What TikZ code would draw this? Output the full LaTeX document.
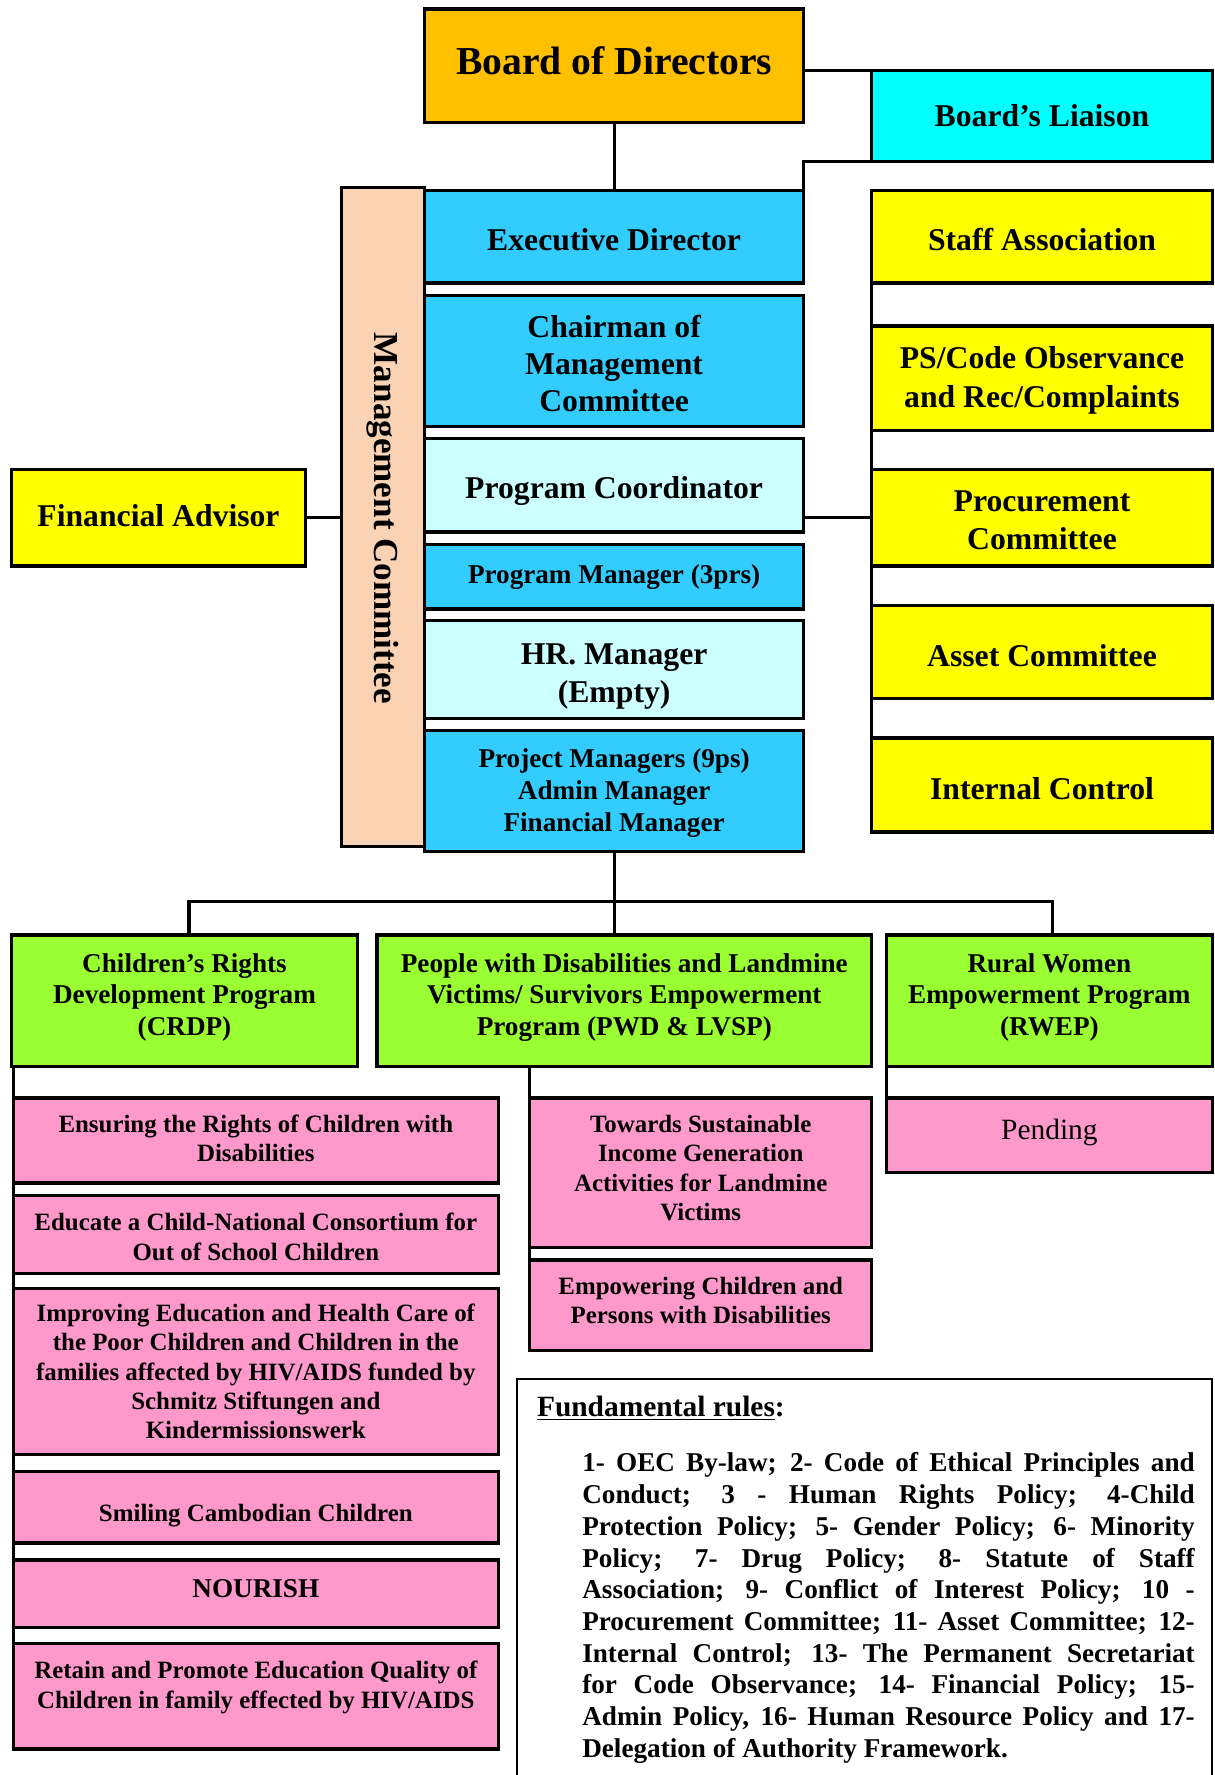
\documentclass[tikz,border=0pt]{standalone}
\usepackage{fontspec}
\setmainfont{Liberation Serif}
\definecolor{cOrange}{HTML}{FFC000}
\definecolor{cCyan}{HTML}{00FFFF}
\definecolor{cBlue}{HTML}{33CCFF}
\definecolor{cLight}{HTML}{CCFFFF}
\definecolor{cPeach}{HTML}{F9D3B4}
\definecolor{cYellow}{HTML}{FFFF00}
\definecolor{cGreen}{HTML}{99FF33}
\definecolor{cPink}{HTML}{FF99CC}
\tikzset{
 bx/.style={draw, line width=1.4pt, inner sep=1pt, outer sep=0pt},
 tx/.style={inner sep=0pt, align=center},
 fA/.style={font=\fontsize{17.5}{21}\selectfont\bfseries},
 fB/.style={font=\fontsize{14}{16.5}\selectfont\bfseries},
 fBB/.style={font=\fontsize{14}{17}\selectfont\bfseries},
 fC/.style={font=\fontsize{12}{14}\selectfont\bfseries},
 fD/.style={font=\fontsize{11}{13}\selectfont\bfseries},
 fR/.style={font=\fontsize{13}{15}\selectfont},
 conn/.style={line width=1.4pt},
}
% [text offset]{name}{x1}{y1}{x2}{y2}{fill}{font style}{text}
\newcommand{\bx}[9][0]{%
 \node[bx, fill=#7, minimum width={(#5-#3)*0.5pt}, minimum height={(#6-#4)*0.5pt}] (#2) at ({(#3+#5)/2},{(#4+#6)/2}) {};
 \node[tx, #8] (#2-t) at ([yshift={-(#1)*0.5pt}]#2.center) {#9};}
\begin{document}
\begin{tikzpicture}[x=0.5pt, y=-0.5pt]
\useasboundingbox (0,0) rectangle (1073,1568);
% top
\bx[-4]{board}{375}{8}{710}{108}{cOrange}{fA}{Board of Directors}
\bx{liaison}{770}{62}{1071}{143}{cCyan}{fB}{Board’s Liaison}
% central column
\bx{mc}{302}{166}{375}{748}{cPeach}{fB}{}
\node[rotate=-90, font=\fontsize{15.5}{18}\selectfont\bfseries] (mclabel) at ([yshift=-0.5pt]mc.center) {Management Committee};
\bx[3]{exec}{375}{168}{710}{250}{cBlue}{fB}{Executive Director}
\bx[2]{chair}{375}{261}{710}{377}{cBlue}{fB}{Chairman of\\Management\\Committee}
\bx[5]{pcoord}{375}{387}{710}{470}{cLight}{fB}{Program Coordinator}
\bx{pman}{375}{481}{710}{538}{cBlue}{fC}{Program Manager (3prs)}
\bx[6]{hr}{375}{548}{710}{635}{cLight}{fB}{HR. Manager\\(Empty)}
\bx[2]{proj}{375}{645}{710}{752}{cBlue}{fC}{Project Managers (9ps)\\Admin Manager\\Financial Manager}
\bx[-2]{fa}{10}{415}{270}{500}{cYellow}{fB}{Financial Advisor}
% right column
\bx[3]{staff}{770}{168}{1071}{250}{cYellow}{fB}{Staff Association}
\bx[2]{ps}{770}{288}{1071}{380}{cYellow}{fBB}{PS/Code Observance\\and Rec/Complaints}
\bx[2]{proc}{770}{415}{1071}{500}{cYellow}{fB}{Procurement\\Committee}
\bx[3]{asset}{770}{535}{1071}{617}{cYellow}{fB}{Asset Committee}
\bx[3]{ic}{770}{652}{1071}{735}{cYellow}{fB}{Internal Control}
% programs
\bx[-3]{crdp}{10}{826}{316}{942}{cGreen}{fC}{Children’s Rights\\Development Program\\(CRDP)}
\bx[-3]{pwd}{333}{826}{770}{942}{cGreen}{fC}{People with Disabilities and Landmine\\Victims/ Survivors Empowerment\\Program (PWD \& LVSP)}
\bx[-3]{rwep}{783}{826}{1071}{942}{cGreen}{fC}{Rural Women\\Empowerment Program\\(RWEP)}
% projects
\bx[-2]{ensure}{12}{970}{440}{1045}{cPink}{fD}{Ensuring the Rights of Children with\\Disabilities}
\bx[2]{educate}{12}{1056}{440}{1125}{cPink}{fD}{Educate a Child-National Consortium for\\Out of School Children}
\bx{improve}{12}{1138}{440}{1285}{cPink}{fD}{Improving Education and Health Care of\\the Poor Children and Children in the\\families affected by HIV/AIDS funded by\\Schmitz Stiftungen and\\Kindermissionswerk}
\bx[7]{smile}{12}{1300}{440}{1363}{cPink}{fD}{Smiling Cambodian Children}
\bx[-5]{nourish}{12}{1378}{440}{1438}{cPink}{fC}{NOURISH}
\bx[-8]{retain}{12}{1452}{440}{1545}{cPink}{fD}{Retain and Promote Education Quality of\\Children in family effected by HIV/AIDS}
\bx[-4]{towards}{468}{970}{770}{1102}{cPink}{fD}{Towards Sustainable\\Income Generation\\Activities for Landmine\\Victims}
\bx[-4]{empower}{468}{1113}{770}{1193}{cPink}{fD}{Empowering Children and\\Persons with Disabilities}
\bx[-3]{pending}{783}{970}{1071}{1036}{cPink}{fR}{Pending}
% rules box
\node[draw, line width=0.8pt, fill=white, minimum width={614*0.5pt}, minimum height={372*0.5pt}, outer sep=0pt] (rules) at (764,1404) {};
\node[anchor=west, inner sep=0pt, font=\fontsize{13}{15}\selectfont\bfseries] (rhead) at (474,1244) {\underline{Fundamental rules}:};
\node[anchor=north west, inner sep=0pt, align=left, font=\fontsize{12}{14}\selectfont\bfseries] (rbody) at (514,1283) {%
\makebox[270.5pt][s]{1- OEC By-law; 2- Code of Ethical Principles and}\\
\makebox[270.5pt][s]{Conduct; 3 - Human Rights Policy; 4-Child}\\
\makebox[270.5pt][s]{Protection Policy; 5- Gender Policy; 6- Minority}\\
\makebox[270.5pt][s]{Policy; 7- Drug Policy; 8- Statute of Staff}\\
\makebox[270.5pt][s]{Association; 9- Conflict of Interest Policy; 10 -}\\
\makebox[270.5pt][s]{Procurement Committee; 11- Asset Committee; 12-}\\
\makebox[270.5pt][s]{Internal Control; 13- The Permanent Secretariat}\\
\makebox[270.5pt][s]{for Code Observance; 14- Financial Policy; 15-}\\
\makebox[270.5pt][s]{Admin Policy, 16- Human Resource Policy and 17-}\\
Delegation of Authority Framework.};
% connectors
\draw[conn] (board.south) -- (exec.north);
\draw[conn] (board.east |- liaison.north west) -- (liaison.north west);
\draw[conn] (liaison.south west) -- (liaison.south west -| exec.east) -- (exec.north east);
\draw[conn] (fa.east) -- (fa.east -| mc.west);
\draw[conn] (proc.west) -- (proc.west -| pcoord.east);
\draw[conn] (staff.south west) -- (ic.north west);
\coordinate (bus) at (542.5,796);
\coordinate (busL) at (167,796);
\coordinate (busR) at (930,796);
\draw[conn] (proj.south) -- (bus);
\draw[conn] (busL |- crdp.north) -- (busL) -- (busR) -- (busR |- rwep.north);
\draw[conn] (bus) -- (bus |- pwd.north);
\draw[conn] (ensure.west |- crdp.south) -- (retain.south west);
\draw[conn] (towards.west |- pwd.south) -- (empower.south west);
\draw[conn] (rwep.south west) -- (pending.north west);
\end{tikzpicture}
\end{document}
